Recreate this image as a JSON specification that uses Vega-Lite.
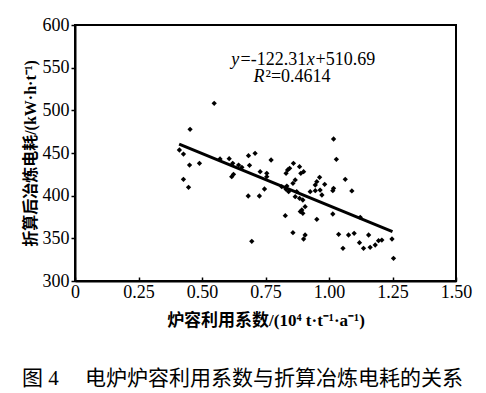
{
  "$schema": "https://vega.github.io/schema/vega-lite/v6.json",
  "autosize": "none",
  "width": 381,
  "height": 256,
  "padding": {"left": 75, "top": 25, "right": 30, "bottom": 112},
  "background": "white",
  "config": {
    "view": {"stroke": "black", "strokeWidth": 2},
    "axis": {"grid": false, "domainColor": "black", "domainWidth": 2, "tickColor": "black", "tickWidth": 1.5, "labelColor": "black", "titleColor": "black"}
  },
  "title": {
    "text": "图 4\u3000 电炉炉容利用系数与折算冶炼电耗的关系",
    "orient": "bottom",
    "anchor": "middle",
    "dx": -23,
    "offset": 40,
    "font": "Liberation Serif, Noto Sans CJK SC",
    "fontSize": 21,
    "fontWeight": "normal",
    "color": "black"
  },
  "datasets": {
    "pts": [
      {"u": 0.411, "e": 453.5}, {"u": 0.427, "e": 448.8}, {"u": 0.453, "e": 477.7}, {"u": 0.548, "e": 508.2},
      {"u": 0.451, "e": 435.9}, {"u": 0.490, "e": 437.9}, {"u": 0.427, "e": 419.1}, {"u": 0.447, "e": 409.8},
      {"u": 0.571, "e": 443.0}, {"u": 0.607, "e": 443.4}, {"u": 0.621, "e": 437.9}, {"u": 0.644, "e": 435.9},
      {"u": 0.657, "e": 433.2}, {"u": 0.617, "e": 422.3}, {"u": 0.624, "e": 425.0}, {"u": 0.683, "e": 446.9},
      {"u": 0.709, "e": 449.6}, {"u": 0.687, "e": 435.5}, {"u": 0.729, "e": 428.1}, {"u": 0.772, "e": 441.8},
      {"u": 0.755, "e": 426.2}, {"u": 0.755, "e": 422.3}, {"u": 0.682, "e": 399.6}, {"u": 0.726, "e": 399.6},
      {"u": 0.746, "e": 407.8}, {"u": 0.696, "e": 346.5}, {"u": 0.860, "e": 437.9}, {"u": 0.837, "e": 430.1},
      {"u": 0.831, "e": 426.2}, {"u": 0.845, "e": 432.0}, {"u": 0.884, "e": 434.0}, {"u": 0.900, "e": 428.1},
      {"u": 0.889, "e": 426.2}, {"u": 0.867, "e": 418.4}, {"u": 0.858, "e": 414.5}, {"u": 0.834, "e": 411.3},
      {"u": 0.814, "e": 410.5}, {"u": 0.831, "e": 407.4}, {"u": 0.841, "e": 404.7}, {"u": 0.873, "e": 404.7},
      {"u": 0.867, "e": 398.8}, {"u": 0.884, "e": 396.9}, {"u": 0.897, "e": 394.9}, {"u": 0.906, "e": 387.1},
      {"u": 0.893, "e": 383.2}, {"u": 0.887, "e": 381.3}, {"u": 0.897, "e": 379.3}, {"u": 0.828, "e": 376.6},
      {"u": 0.858, "e": 356.6}, {"u": 0.906, "e": 353.9}, {"u": 0.900, "e": 349.2}, {"u": 0.963, "e": 421.5},
      {"u": 0.952, "e": 416.4}, {"u": 0.946, "e": 412.5}, {"u": 0.983, "e": 413.3}, {"u": 0.926, "e": 404.7},
      {"u": 0.946, "e": 405.9}, {"u": 0.965, "e": 406.6}, {"u": 0.972, "e": 400.8}, {"u": 0.952, "e": 372.3},
      {"u": 1.018, "e": 466.4}, {"u": 1.029, "e": 442.6}, {"u": 1.064, "e": 419.1}, {"u": 1.018, "e": 408.6},
      {"u": 1.015, "e": 405.9}, {"u": 1.090, "e": 405.5}, {"u": 1.015, "e": 378.5}, {"u": 1.123, "e": 374.6},
      {"u": 1.038, "e": 354.7}, {"u": 1.077, "e": 353.9}, {"u": 1.099, "e": 355.9}, {"u": 1.156, "e": 353.9},
      {"u": 1.055, "e": 338.3}, {"u": 1.120, "e": 344.9}, {"u": 1.136, "e": 338.3}, {"u": 1.162, "e": 339.5},
      {"u": 1.182, "e": 342.2}, {"u": 1.195, "e": 347.3}, {"u": 1.208, "e": 348.0}, {"u": 1.248, "e": 349.2},
      {"u": 1.254, "e": 326.6}
    ],
    "fit": [{"u": 0.41, "e": 460.5}, {"u": 1.25, "e": 357.8}],
    "annoItalic": [
      {"u": 0.615, "e": 553, "t": "y"},
      {"u": 0.912, "e": 553, "t": "x"},
      {"u": 0.703, "e": 533, "t": "R"}
    ],
    "annoPlain": [
      {"u": 0.652, "e": 553, "t": "=-122.31"},
      {"u": 0.947, "e": 553, "t": "+510.69"},
      {"u": 0.750, "e": 533, "t": "²=0.4614"}
    ]
  },
  "encoding": {
    "x": {
      "field": "u", "type": "quantitative",
      "scale": {"domain": [0, 1.5], "nice": false, "zero": false},
      "axis": {
        "values": [0, 0.25, 0.5, 0.75, 1.0, 1.25, 1.5],
        "labelExpr": "datum.value == 0 ? '0' : format(datum.value, '.2f')",
        "labelFont": "Liberation Serif", "labelFontSize": 18,
        "tickSize": -4, "labelPadding": 6, "labelFlush": false,
        "title": "炉容利用系数/(10⁴ t·t⁻¹·a⁻¹)",
        "titleFont": "Liberation Serif, Noto Sans CJK SC", "titleFontSize": 17, "titleFontWeight": "bold",
        "titlePadding": 11
      }
    },
    "y": {
      "field": "e", "type": "quantitative",
      "scale": {"domain": [300, 600], "nice": false, "zero": false},
      "axis": {
        "values": [300, 350, 400, 450, 500, 550, 600],
        "labelFont": "Liberation Serif", "labelFontSize": 18,
        "tickSize": 4, "labelPadding": 2, "labelFlush": false,
        "title": "折算后冶炼电耗/(kW·h·t⁻¹)",
        "titleFont": "Liberation Serif, Noto Sans CJK SC", "titleFontSize": 16, "titleFontWeight": "bold",
        "titlePadding": 4
      }
    }
  },
  "layer": [
    {"data": {"name": "pts"}, "mark": {"type": "point", "shape": "diamond", "filled": true, "size": 28, "color": "black", "opacity": 1}},
    {"data": {"name": "fit"}, "mark": {"type": "line", "color": "black", "strokeWidth": 3}},
    {"data": {"name": "annoItalic"}, "mark": {"type": "text", "align": "left", "baseline": "alphabetic", "font": "Liberation Serif", "fontSize": 18, "fontStyle": "italic", "color": "black"}, "encoding": {"text": {"field": "t"}}},
    {"data": {"name": "annoPlain"}, "mark": {"type": "text", "align": "left", "baseline": "alphabetic", "font": "Liberation Serif", "fontSize": 18, "color": "black"}, "encoding": {"text": {"field": "t"}}}
  ]
}
